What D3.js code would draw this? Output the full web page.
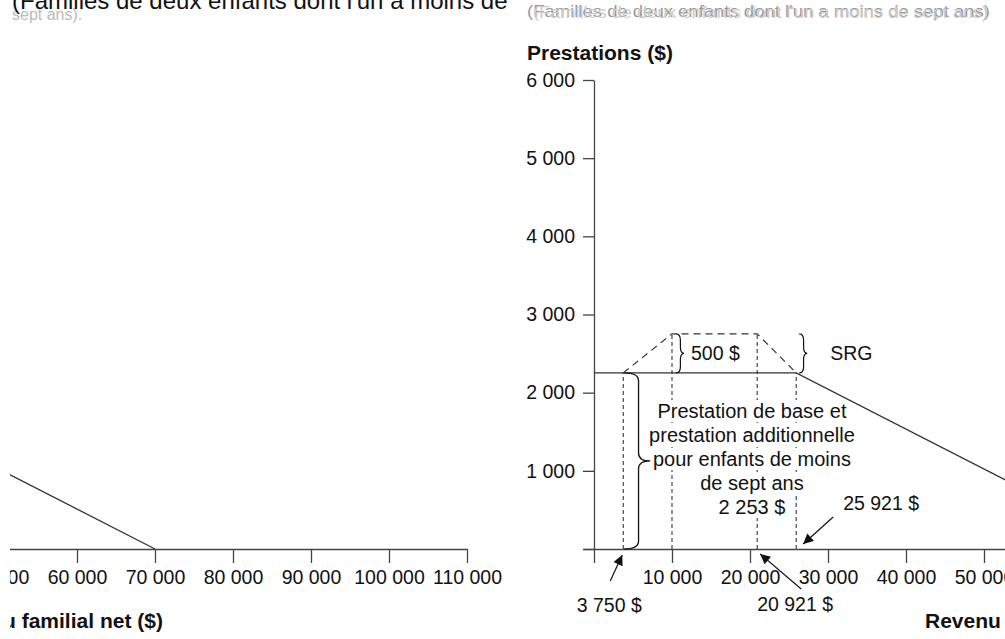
<!DOCTYPE html>
<html>
<head>
<meta charset="utf-8">
<script src="https://cdn.jsdelivr.net/npm/d3@7"></script>
<style>
  body { margin: 0; background: #fff; }
  svg { display: block; font-family: "Liberation Sans", Arial, Helvetica, sans-serif; }
</style>
</head>
<body>
<svg id="chart" width="1005" height="639"></svg>
<script>
const width = 1005;
const height = 639;

// Axis ticks
const xTicks = [0, 10000, 20000, 30000, 40000, 50000, 60000, 70000, 80000, 90000, 100000, 110000];
const yTicks = [0, 1000, 2000, 3000, 4000, 5000, 6000];

// Base benefit + additional benefit for children under 7 (solid line)
const baseIncome = [0, 25921, 70000];
const baseValue = [2253, 2253, 0];

// Working income supplement (SRG, dashed)
const srgIncome = [3750, 10000, 20921, 25921];
const srgValue = [2253, 2753, 2753, 2253];

// Income thresholds marked with dashed guides
const guideIncome = [3750, 10000, 20921, 25921];
const guideTop = [2253, 2753, 2753, 2253];

const bodyLines = ["Prestation de base et", "prestation additionnelle", "pour enfants de moins", "de sept ans", "2 253 $"];
const titleText = "(Familles de deux enfants dont l'un a moins de sept ans)";

const fr = d3.formatLocale({ decimal: ",", thousands: " ", grouping: [3], currency: ["", " $"] });
const fmt = fr.format(",");

const x = d3.scaleLinear().domain([-1410, 110000]).range([583, 1452]);
const y = d3.scaleLinear().domain([0, 6000]).range([549, 80]);

const svg = d3.select("#chart");
svg.append("rect").attr("width", width).attr("height", height).attr("fill", "#fff");

const defs = svg.append("defs");
defs.append("marker")
    .attr("id", "arrow")
    .attr("viewBox", "0 0 10 10")
    .attr("refX", 10).attr("refY", 5)
    .attr("markerWidth", 12).attr("markerHeight", 10)
    .attr("markerUnits", "userSpaceOnUse")
    .attr("orient", "auto")
  .append("path")
    .attr("d", "M0,0 L10,5 L0,10 Z")
    .attr("fill", "#111");
defs.append("clipPath").attr("id", "clipL")
  .append("rect").attr("x", 10).attr("y", 0).attr("width", 505).attr("height", height);
defs.append("clipPath").attr("id", "clipR")
  .append("rect").attr("x", 515).attr("y", 0).attr("width", 490).attr("height", height);

// curly brace "}" with its point to the right
function brace(x0, yTop, yBot, w) {
  const xm = x0 + w * 0.55, mid = (yTop + yBot) / 2, r = Math.min(8, (yBot - yTop) / 6);
  return `M${x0},${yTop} Q${xm},${yTop} ${xm},${yTop + r} L${xm},${mid - r} Q${xm},${mid} ${x0 + w},${mid}`
    + ` Q${xm},${mid} ${xm},${mid + r} L${xm},${yBot - r} Q${xm},${yBot} ${x0},${yBot}`;
}

function drawChart(g) {
  // dashed guides
  g.append("g")
    .selectAll("line")
    .data(guideIncome)
    .join("line")
      .attr("x1", d => x(d)).attr("x2", d => x(d))
      .attr("y1", y(0)).attr("y2", (d, i) => y(guideTop[i]))
      .attr("stroke", "#222").attr("stroke-width", 1)
      .attr("stroke-dasharray", "4,3");

  // text block with white backing to cut the guides
  const block = g.append("g");
  bodyLines.forEach((t, i) => {
    const txt = block.append("text")
      .attr("x", x(20250)).attr("y", 418 + i * 24)
      .attr("text-anchor", "middle")
      .attr("font-size", 20).attr("fill", "#111")
      .text(t);
    const b = txt.node().getBBox();
    block.insert("rect", "text")
      .attr("x", b.x - 2).attr("y", b.y)
      .attr("width", b.width + 4).attr("height", b.height)
      .attr("fill", "#fff");
  });

  // axes
  const xAxis = g.append("g")
    .attr("transform", `translate(0,${y(0)})`)
    .call(d3.axisBottom(x).tickValues(xTicks).tickSize(14).tickSizeOuter(0).tickPadding(7)
      .tickFormat(d => d === 0 ? "" : fmt(d)));
  const yAxis = g.append("g")
    .attr("transform", `translate(${x(0)},0)`)
    .call(d3.axisLeft(y).tickValues(yTicks).tickSize(11).tickSizeOuter(0).tickPadding(8)
      .tickFormat(d => d === 0 ? "" : fmt(d)));
  [xAxis, yAxis].forEach(a => {
    a.selectAll("path, line").attr("stroke", "#444").attr("stroke-width", 1.3);
    a.selectAll("text").attr("font-size", 19.5).attr("fill", "#111").attr("font-family", null);
  });

  // base benefit
  g.append("path")
    .datum(baseIncome.map((d, i) => [d, baseValue[i]]))
    .attr("fill", "none").attr("stroke", "#333").attr("stroke-width", 1.3)
    .attr("d", d3.line().x(d => x(d[0])).y(d => y(d[1])));

  // supplement
  g.append("path")
    .datum(srgIncome.map((d, i) => [d, srgValue[i]]))
    .attr("fill", "none").attr("stroke", "#333").attr("stroke-width", 1.2)
    .attr("stroke-dasharray", "7,5")
    .attr("d", d3.line().x(d => x(d[0])).y(d => y(d[1])));

  // braces
  g.append("path").attr("d", brace(x(3750) + 1, y(2253), y(0), 26))
    .attr("fill", "none").attr("stroke", "#111").attr("stroke-width", 1.3);
  g.append("path").attr("d", brace(x(10000) + 4, y(2753), y(2253), 8))
    .attr("fill", "none").attr("stroke", "#111").attr("stroke-width", 1.2);
  g.append("path").attr("d", brace(x(25921) + 3, y(2753), y(2253), 8))
    .attr("fill", "none").attr("stroke", "#111").attr("stroke-width", 1.2);

  const label = (tx, ty, t, anchor = "start", weight = "normal", size = 19.5) => g.append("text")
    .attr("x", tx).attr("y", ty).attr("text-anchor", anchor)
    .attr("font-size", size).attr("font-weight", weight).attr("fill", "#111").text(t);

  label(x(10000) + 19, 360, "500 $");
  label(x(25921) + 34, 360, "SRG");
  label(x(3750) - 14, 612, "3 750 $", "middle");
  label(x(20921), 611, "20 921 $");
  label(x(25921) + 47, 510, "25 921 $");

  // arrows
  const arrows = [
    [[x(3750) - 13, 581], [x(3750) - 1, 555]],
    [[x(25921) + 5, 589], [x(20921) + 3, 554]],
    [[x(25921) + 37, 517], [x(25921) + 7, 544]]
  ];
  g.append("g").selectAll("line")
    .data(arrows)
    .join("line")
      .attr("x1", d => d[0][0]).attr("y1", d => d[0][1])
      .attr("x2", d => d[1][0]).attr("y2", d => d[1][1])
      .attr("stroke", "#111").attr("stroke-width", 1.2)
      .attr("marker-end", "url(#arrow)");

  // axis titles
  label(527, 60, "Prestations ($)", "start", "bold", 21);
  label(925, 628, "Revenu familial net ($)", "start", "bold", 21);
}

// right part of the chart, then the wrapped-around tail on the left
drawChart(svg.append("g").attr("clip-path", "url(#clipR)"));
drawChart(svg.append("g").attr("clip-path", "url(#clipL)").append("g").attr("transform", "translate(-985,0)"));

// header line, cut at the top of the frame
const head = svg.append("g");
head.append("text")
    .attr("x", 12).attr("y", 20).attr("font-size", 16).attr("fill", "#bbb")
    .text("sept ans).");
head.append("text")
    .attr("clip-path", "url(#clipL)")
    .attr("x", 12).attr("y", 9).attr("font-size", 24).attr("fill", "#111")
    .text(titleText);
head.append("text")
    .attr("x", 527).attr("y", 17).attr("font-size", 17).attr("fill", "#999")
    .attr("textLength", 463).attr("lengthAdjust", "spacingAndGlyphs")
    .text(titleText);
head.append("text")
    .attr("x", 533).attr("y", 18).attr("font-size", 17).attr("fill", "#ccc")
    .attr("textLength", 455).attr("lengthAdjust", "spacingAndGlyphs")
    .text(titleText);
</script>
</body>
</html>
